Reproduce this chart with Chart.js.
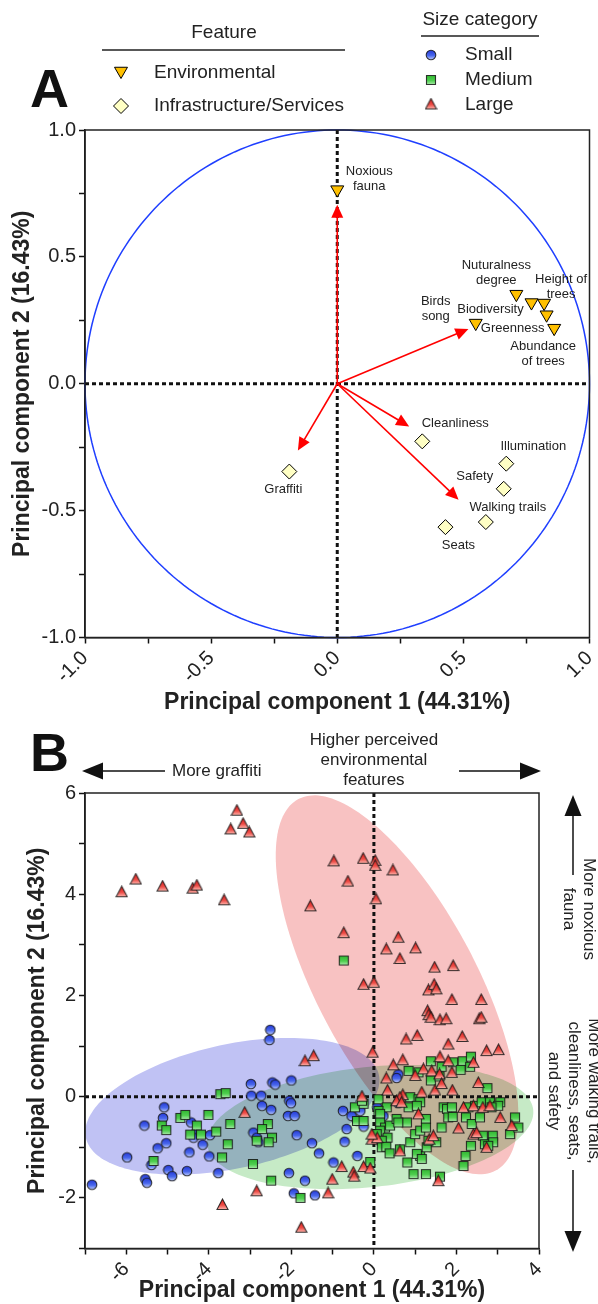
<!DOCTYPE html>
<html>
<head>
<meta charset="utf-8">
<title>PCA loadings and scores</title>
<script src="https://cdn.jsdelivr.net/npm/chart.js@4.4.1/dist/chart.umd.min.js"></script>
<style>
  html, body { margin: 0; padding: 0; background: #fff; }
  body { width: 598px; height: 1304px; position: relative; overflow: hidden; }
  canvas { position: absolute; left: 0; }
  #chartA { top: 0; }
  #chartB { top: 726px; }
</style>
</head>
<body>
<canvas id="chartA" width="598" height="720"></canvas>
<canvas id="chartB" width="598" height="578"></canvas>
<script>
// ---------- panel A : loadings ----------
const envNames = ["Noxious\nfauna", "Birds\nsong", "Nuturalness\ndegree", "Biodiversity", "Height of\ntrees", "Greenness", "Abundance\nof trees"];
const envPC1 = [0.0, 0.549, 0.71, 0.77, 0.82, 0.83, 0.86];
const envPC2 = [0.765, 0.239, 0.353, 0.320, 0.318, 0.272, 0.219];

const infraNames = ["Cleanliness", "Illumination", "Safety", "Walking trails", "Seats", "Graffiti"];
const infraPC1 = [0.337, 0.67, 0.66, 0.589, 0.429, -0.19];
const infraPC2 = [-0.227, -0.315, -0.414, -0.545, -0.565, -0.346];

// red vectors (end points)
const vecPC1 = [0.0, 0.52, 0.285, 0.481, -0.156];
const vecPC2 = [0.705, 0.216, -0.168, -0.457, -0.263];

const ticksA = [-1.0, -0.5, 0.0, 0.5, 1.0];

// ---------- panel B : scores ----------
const smallScores = [
  [-2.51,1.32],[-2.53,1.12],[-2.98,0.25],[-2.46,0.28],[-2.39,0.24],[-2.00,0.32],
  [-2.97,0.02],[-2.73,0.02],[-2.71,-0.18],[-2.49,-0.26],[-2.05,-0.08],[-2.01,-0.13],
  [-2.08,-0.38],[-1.92,-0.38],[-1.87,-0.76],[-1.50,-0.92],[-1.33,-1.12],
  [-0.75,-0.28],[-0.54,-0.38],[-0.66,-0.64],[-0.71,-0.89],[-0.25,-0.59],[-0.40,-1.17],
  [-0.98,-1.30],[-1.67,-1.66],[-2.06,-1.51],[-0.33,-0.28],[-0.41,-0.48],[0.08,-0.21],
  [0.23,-0.38],[0.59,0.44],[0.55,0.37],[0.59,-0.13],
  [-5.08,-0.21],[-5.11,-0.42],[-5.56,-0.57],[-4.43,-0.51],[-4.33,-0.73],[-4.37,-0.81],
  [-4.15,-0.95],[-3.97,-0.76],[-5.03,-0.92],[-5.24,-1.02],[-4.47,-1.10],[-3.99,-1.18],
  [-5.98,-1.20],[-5.39,-1.35],[-4.98,-1.45],[-4.89,-1.57],[-4.53,-1.47],[-3.77,-1.51],
  [-5.54,-1.63],[-5.50,-1.70],[-6.83,-1.74],[-2.92,-0.71],[-2.84,-0.81],[-2.80,-0.90],
  [-1.94,-1.91],[-1.43,-1.95]
];
const mediumScores = [
  [-3.72,0.05],[-3.59,0.07],[-4.69,-0.42],[-4.57,-0.36],[-4.01,-0.36],[-5.14,-0.57],
  [-5.03,-0.66],[-4.29,-0.57],[-4.45,-0.75],[-4.19,-0.75],[-3.82,-0.69],[-3.48,-0.54],
  [-3.54,-0.94],[-3.68,-1.20],[-2.93,-1.33],[-2.57,-0.54],[-2.71,-0.64],[-2.47,-0.81],
  [-2.55,-0.90],[-2.84,-0.87],[-5.34,-1.27],[-2.49,-1.66],[-1.78,-2.00],
  [-0.46,-0.21],[-0.25,-0.14],[-0.41,-0.48],[-0.25,-0.48],[-0.09,-1.29],[-0.29,-0.08],
  [-0.73,2.69],
  [1.38,0.70],[1.64,0.59],[1.92,0.68],[2.15,0.70],[2.33,0.59],[2.10,0.53],[2.35,0.79],
  [0.84,0.51],[1.38,0.32],[2.75,0.17],[1.59,0.40],[1.08,0.48],
  [0.11,-0.05],[0.31,-0.21],[0.11,-0.28],[0.15,-0.34],[0.15,-0.51],[0.27,-0.61],
  [0.39,-0.57],[0.15,-0.67],[0.07,-0.74],[0.33,-0.81],[0.19,-0.87],[0.19,-1.00],
  [0.30,-0.99],[0.38,-1.12],[0.55,-0.44],[0.80,-0.51],[0.59,-0.51],[0.63,-1.04],
  [0.88,-0.90],[1.00,-0.74],[1.12,-0.67],[1.26,-0.44],[1.26,-0.61],[0.81,-1.30],
  [1.12,-1.17],[1.04,-1.13],[1.16,-1.23],[1.28,-1.00],[1.51,-0.90],[1.32,-0.87],
  [1.64,-0.61],[0.96,-1.53],[1.26,-1.53],[1.60,-1.58],[2.17,-1.37],[2.22,-1.17],
  [2.35,-0.97],[0.88,-0.01],[1.08,-0.05],[1.12,-0.11],[0.84,-0.21],[1.04,-0.18],
  [1.69,-0.21],[1.77,-0.24],[1.89,-0.21],[1.80,-0.41],[1.91,-0.40],[2.23,-0.41],
  [2.37,-0.54],[2.29,-0.21],[2.57,-0.41],[2.45,-0.18],[2.61,-0.11],[2.81,-0.11],
  [3.06,-0.11],[3.01,-0.18],[2.85,-0.21],[2.64,-0.77],[2.88,-0.77],[2.69,-0.94],
  [2.89,-0.90],[2.77,-0.97],[3.30,-0.74],[3.50,-0.61],[3.42,-0.41]
];
const largeScores = [
  [-3.32,5.66],[-3.47,5.29],[-3.17,5.40],[-3.02,5.23],[-6.11,4.05],[-5.77,4.30],
  [-5.12,4.16],[-4.39,4.12],[-4.29,4.18],[-3.63,3.89],
  [-0.97,4.66],[-0.26,4.71],[0.03,4.67],[0.03,4.57],[-0.63,4.26],[-1.54,3.77],
  [0.05,3.91],[-0.73,3.24],[-0.25,2.22],[0.00,2.26],
  [0.46,4.48],[0.59,3.15],[0.30,2.92],[1.01,2.94],[0.63,2.73],[1.47,2.56],[1.92,2.59],
  [1.32,2.11],[1.46,2.22],[1.51,2.13],[1.89,1.92],[2.60,1.92],[1.30,1.70],[1.33,1.62],
  [1.38,1.57],[1.60,1.52],[1.75,1.54],[2.55,1.54],[2.60,1.57],
  [0.78,1.14],[1.05,1.21],[2.14,1.19],[1.80,1.04],[2.73,0.91],[3.02,0.93],[1.60,0.79],
  [1.80,0.71],[2.41,0.68],[0.70,0.73],[0.47,0.63],[-0.03,0.88],[-1.67,0.71],[-1.46,0.81],
  [1.20,0.55],[1.40,0.51],[1.59,0.45],[1.00,0.42],[1.89,0.48],[0.30,0.37],[2.53,0.28],
  [0.33,0.13],[1.48,0.13],[1.64,0.26],[1.90,0.13],[0.70,0.04],[1.16,0.09],[-0.29,0.01],
  [1.08,-0.34],[2.05,-0.62],[2.41,-0.74],[2.49,-0.71],[3.06,-0.41],[3.34,-0.57],
  [2.17,-0.21],[2.41,-0.18],[2.64,-0.21],[2.81,-0.18],[-0.05,-0.84],[0.08,-0.81],
  [-0.05,-0.74],[0.63,-1.07],[1.34,-0.84],[1.44,-0.77],
  [-0.78,-1.38],[-0.50,-1.49],[-0.48,-1.57],[-0.25,-1.38],[-0.09,-1.41],[-1.01,-1.63],
  [2.73,-1.00],[1.56,-1.66],[0.63,-0.01],[0.55,-0.08],[0.67,-0.11],
  [-3.13,-0.31],[-2.84,-1.86],[-3.67,-2.13],[-1.76,-2.58],[-1.11,-1.90]
];

// confidence ellipses: centre x, centre y, semi axis 1 (x,y), semi axis 2 (x,y)
const ellLarge = [0.56, 2.21, -2.39, 3.67, 1.71, 0.74];
const ellSmall = [-3.43, -0.19, 3.55, 0.62, 0.31, -1.20];
const ellMedium = [-0.09, -0.60, 3.95, 0.34, 0.15, -1.18];

const ticksB = [-6, -4, -2, 0, 2, 4, 6];

// ---------- style helpers ----------
const FONT = '"Liberation Sans", Arial, sans-serif';
Chart.defaults.font.family = FONT;
Chart.defaults.color = '#222';

// where each loading label sits relative to its marker (px)
const labelOffsets = {
  "Noxious\nfauna": [32, -18], "Birds\nsong": [-40, -22], "Nuturalness\ndegree": [-20, -29],
  "Biodiversity": [-41, 7], "Height of\ntrees": [17, -24], "Greenness": [-34, 14],
  "Abundance\nof trees": [-11, 18], "Cleanliness": [33, -18], "Illumination": [27, -17],
  "Safety": [-29, -12], "Walking trails": [22, -15], "Seats": [13, 18], "Graffiti": [-6, 18]
};

function makeMarker(shape, c1, c2, c3, size) {
  const c = document.createElement('canvas');
  c.width = size; c.height = size;
  const g = c.getContext('2d');
  const grad = g.createLinearGradient(0, 1, 0, size - 1);
  grad.addColorStop(0, c1);
  grad.addColorStop(0.55, c2);
  grad.addColorStop(1, c3);
  g.fillStyle = grad;
  g.strokeStyle = 'rgba(20,20,20,0.85)';
  g.lineWidth = 1.1;
  g.beginPath();
  const m = size / 2;
  if (shape === 'circle') g.arc(m, m, m - 1.2, 0, Math.PI * 2);
  else if (shape === 'square') g.rect(1.5, 1.5, size - 3, size - 3);
  else { g.moveTo(m, 1); g.lineTo(size - 1, size - 1.5); g.lineTo(1, size - 1.5); g.closePath(); }
  g.fill();
  g.stroke();
  return c;
}
const imgSmall = makeMarker('circle', '#2236d8', '#4a68ec', '#c6d2ff', 12);
const imgMedium = makeMarker('square', '#2fb52f', '#4fcf4f', '#b4ecb4', 12);
const imgLarge = makeMarker('tri', '#e02222', '#ee4a44', '#ffc4bc', 13);

function arrowHead(ctx, tx, ty, ux, uy, len, half) {
  const bx = tx - ux * len, by = ty - uy * len;
  ctx.beginPath();
  ctx.moveTo(tx, ty);
  ctx.lineTo(bx - uy * half, by + ux * half);
  ctx.lineTo(bx + uy * half, by - ux * half);
  ctx.closePath();
  ctx.fill();
}

function arrow(ctx, x0, y0, x1, y1, len, half) {
  const d = Math.hypot(x1 - x0, y1 - y0);
  const ux = (x1 - x0) / d, uy = (y1 - y0) / d;
  ctx.beginPath();
  ctx.moveTo(x0, y0);
  ctx.lineTo(x1 - ux * (len - 1), y1 - uy * (len - 1));
  ctx.stroke();
  arrowHead(ctx, x1, y1, ux, uy, len, half);
}

function shapePath(ctx, shape, x, y, r) {
  ctx.beginPath();
  if (shape === 'triDown') {
    for (let k = 0; k < 3; k++) {
      const a = Math.PI + k * 2 * Math.PI / 3;
      const px = x + Math.sin(a) * r, py = y - Math.cos(a) * r;
      k ? ctx.lineTo(px, py) : ctx.moveTo(px, py);
    }
  } else {
    ctx.moveTo(x - r, y); ctx.lineTo(x, y - r); ctx.lineTo(x + r, y); ctx.lineTo(x, y + r);
  }
  ctx.closePath();
}

function dashedAxes(ctx, a, x, y) {
  const x0 = x.getPixelForValue(0), y0 = y.getPixelForValue(0);
  ctx.save();
  ctx.strokeStyle = '#111';
  ctx.lineWidth = 3;
  ctx.setLineDash([4, 3]);
  ctx.beginPath();
  ctx.moveTo(x0, a.top); ctx.lineTo(x0, a.bottom);
  ctx.moveTo(a.left, y0); ctx.lineTo(a.right, y0);
  ctx.stroke();
  ctx.restore();
}

function frame(ctx, a) {
  ctx.save();
  ctx.strokeStyle = '#222';
  ctx.lineWidth = 1.5;
  ctx.strokeRect(a.left, a.top, a.right - a.left, a.bottom - a.top);
  ctx.restore();
}

// ---------- panel A plugin ----------
const panelA = {
  id: 'panelA',
  beforeDatasetsDraw(chart) {
    const {ctx, chartArea: a, scales: {x, y}} = chart;
    ctx.save();
    ctx.strokeStyle = '#1f3fff';
    ctx.lineWidth = 1.5;
    ctx.beginPath();
    for (let i = 0; i <= 240; i++) {
      const t = i / 240 * Math.PI * 2;
      const px = x.getPixelForValue(Math.cos(t)), py = y.getPixelForValue(Math.sin(t));
      i ? ctx.lineTo(px, py) : ctx.moveTo(px, py);
    }
    ctx.stroke();
    ctx.restore();

    dashedAxes(ctx, a, x, y);

    ctx.save();
    ctx.strokeStyle = '#ff0000';
    ctx.fillStyle = '#ff0000';
    ctx.lineWidth = 1.6;
    const ox = x.getPixelForValue(0), oy = y.getPixelForValue(0);
    for (let i = 0; i < vecPC1.length; i++) {
      arrow(ctx, ox, oy, x.getPixelForValue(vecPC1[i]), y.getPixelForValue(vecPC2[i]), 13, 6);
    }
    ctx.restore();
  },
  afterDatasetsDraw(chart) {
    const {ctx, chartArea: a} = chart;
    ctx.save();
    ctx.font = '13px ' + FONT;
    ctx.fillStyle = '#222';
    ctx.textAlign = 'center';
    ctx.textBaseline = 'middle';
    [envNames, infraNames].forEach((names, di) => {
      const pts = chart.getDatasetMeta(di).data;
      names.forEach((n, i) => {
        const off = labelOffsets[n];
        n.split('\n').forEach((line, k) => {
          ctx.fillText(line, pts[i].x + off[0], pts[i].y + off[1] + k * 15);
        });
      });
    });
    ctx.restore();
    frame(ctx, a);
  },
  afterDraw(chart) {
    const ctx = chart.ctx;
    ctx.save();
    ctx.fillStyle = '#111';
    ctx.font = 'bold 54px ' + FONT;
    ctx.textBaseline = 'alphabetic';
    ctx.fillText('A', 30, 107);

    ctx.fillStyle = '#222';
    ctx.font = '19px ' + FONT;
    ctx.textBaseline = 'middle';
    ctx.textAlign = 'center';
    ctx.fillText('Feature', 224, 33);
    ctx.fillText('Size category', 480, 20);
    ctx.strokeStyle = '#222';
    ctx.lineWidth = 1.5;
    ctx.beginPath();
    ctx.moveTo(102, 50); ctx.lineTo(345, 50);
    ctx.moveTo(421, 36); ctx.lineTo(539, 36);
    ctx.stroke();

    ctx.textAlign = 'left';
    ctx.fillText('Environmental', 154, 73);
    ctx.fillText('Infrastructure/Services', 154, 106);
    ctx.fillText('Small', 465, 55);
    ctx.fillText('Medium', 465, 80);
    ctx.fillText('Large', 465, 105);

    ctx.lineWidth = 1;
    ctx.strokeStyle = '#000';
    shapePath(ctx, 'triDown', 121, 71, 7.5);
    ctx.fillStyle = '#ffc000'; ctx.fill(); ctx.stroke();
    shapePath(ctx, 'diamond', 121, 106, 7.5);
    ctx.fillStyle = '#ffffc4'; ctx.fill(); ctx.stroke();

    ctx.drawImage(imgSmall, 431 - 6, 55 - 6);
    ctx.drawImage(imgMedium, 431 - 6, 80 - 6);
    ctx.drawImage(imgLarge, 431 - 6.5, 104 - 6.5);
    ctx.restore();
  }
};

// ---------- panel B plugin ----------
function fillEllipse(ctx, x, y, e, color) {
  ctx.beginPath();
  for (let i = 0; i <= 180; i++) {
    const t = i / 180 * Math.PI * 2;
    const vx = e[0] + e[2] * Math.cos(t) + e[4] * Math.sin(t);
    const vy = e[1] + e[3] * Math.cos(t) + e[5] * Math.sin(t);
    const px = x.getPixelForValue(vx), py = y.getPixelForValue(vy);
    i ? ctx.lineTo(px, py) : ctx.moveTo(px, py);
  }
  ctx.closePath();
  ctx.fillStyle = color;
  ctx.fill();
}

function vText(ctx, lines, cols, cy) {
  lines.forEach((s, i) => {
    ctx.save();
    ctx.translate(cols[i], cy);
    ctx.rotate(Math.PI / 2);
    ctx.fillText(s, 0, 0);
    ctx.restore();
  });
}

const panelB = {
  id: 'panelB',
  beforeDatasetsDraw(chart) {
    const {ctx, chartArea: a, scales: {x, y}} = chart;
    ctx.save();
    ctx.beginPath();
    ctx.rect(a.left, a.top, a.right - a.left, a.bottom - a.top);
    ctx.clip();
    ctx.globalCompositeOperation = 'multiply';
    fillEllipse(ctx, x, y, ellLarge, 'rgb(248,194,194)');
    fillEllipse(ctx, x, y, ellSmall, 'rgb(192,194,244)');
    fillEllipse(ctx, x, y, ellMedium, 'rgb(198,234,198)');
    ctx.restore();
    dashedAxes(ctx, a, x, y);
  },
  afterDraw(chart) {
    const {ctx, chartArea: a, scales: {x}} = chart;
    frame(ctx, a);
    ctx.save();
    ctx.fillStyle = '#111';
    ctx.font = 'bold 54px ' + FONT;
    ctx.textBaseline = 'alphabetic';
    ctx.fillText('B', 30, 45);

    ctx.fillStyle = '#222';
    ctx.strokeStyle = '#111';
    ctx.font = '17px ' + FONT;
    ctx.textBaseline = 'middle';
    ctx.textAlign = 'center';
    const cx = x.getPixelForValue(0);
    ctx.fillText('Higher perceived', cx, 14);
    ctx.fillText('environmental', cx, 34);
    ctx.fillText('features', cx, 54);
    ctx.textAlign = 'left';
    ctx.fillText('More graffiti', 172, 45);

    ctx.lineWidth = 1.5;
    ctx.fillStyle = '#111';
    arrow(ctx, 165, 45, 82, 45, 21, 8.5);
    arrow(ctx, 459, 45, 541, 45, 21, 8.5);
    arrow(ctx, 573, 149, 573, 69, 21, 8.5);
    arrow(ctx, 573, 444, 573, 526, 21, 8.5);

    ctx.fillStyle = '#222';
    ctx.textAlign = 'center';
    vText(ctx, ['More noxious', 'fauna'], [589, 569], 183);
    vText(ctx, ['More walking trails,', 'cleanliness, seats,', 'and safety'], [594, 574, 554], 365);
    ctx.restore();
  }
};

// ---------- charts ----------
function axisTicks(len) {
  return { display: true, drawOnChartArea: false, drawTicks: true, tickLength: len, tickColor: '#111', tickWidth: 1.5 };
}
const axisBorder = { display: true, color: '#111', width: 1.5 };
const titleFont = { size: 23, weight: 'bold' };

new Chart(document.getElementById('chartA'), {
  type: 'scatter',
  data: {
    datasets: [{
      label: 'Environmental',
      data: envPC1.map((v, i) => ({x: v, y: envPC2[i]})),
      pointStyle: 'triangle', rotation: 180, radius: 7.5,
      backgroundColor: '#ffc000', borderColor: '#000', borderWidth: 1
    }, {
      label: 'Infrastructure/Services',
      data: infraPC1.map((v, i) => ({x: v, y: infraPC2[i]})),
      pointStyle: 'rectRot', radius: 7.5,
      backgroundColor: '#ffffc4', borderColor: '#000', borderWidth: 1
    }]
  },
  options: {
    responsive: false, animation: false, events: [],
    layout: { padding: { left: 0, right: 2, top: 130, bottom: 0 } },
    plugins: { legend: { display: false }, tooltip: { enabled: false } },
    scales: {
      x: {
        min: -1, max: 1,
        ticks: {
          stepSize: 0.25, autoSkip: false, minRotation: 45, maxRotation: 45, padding: 3,
          font: { size: 20 }, color: '#222',
          callback: v => ticksA.some(t => Math.abs(t - v) < 1e-9) ? v.toFixed(1) : ''
        },
        grid: axisTicks(6), border: axisBorder,
        title: { display: true, text: 'Principal component 1 (44.31%)', color: '#222',
                 font: titleFont, padding: { top: 0, bottom: 4 } },
        afterFit: s => { s.height = 82.5; s.paddingLeft = 0; s.paddingRight = 0; }
      },
      y: {
        min: -1, max: 1,
        ticks: {
          stepSize: 0.25, autoSkip: false, padding: 3, font: { size: 20 }, color: '#222',
          callback: v => ticksA.some(t => Math.abs(t - v) < 1e-9) ? v.toFixed(1) : ''
        },
        grid: axisTicks(6), border: axisBorder,
        title: { display: true, text: 'Principal component 2 (16.43%)', color: '#222',
                 font: titleFont, padding: { top: 9, bottom: 0 } },
        afterFit: s => { s.width = 85; }
      }
    }
  },
  plugins: [panelA]
});

const toXY = arr => arr.map(p => ({x: p[0], y: p[1]}));

new Chart(document.getElementById('chartB'), {
  type: 'scatter',
  data: {
    datasets: [
      { label: 'Large', data: toXY(largeScores), pointStyle: imgLarge, order: 0 },
      { label: 'Medium', data: toXY(mediumScores), pointStyle: imgMedium, order: 1 },
      { label: 'Small', data: toXY(smallScores), pointStyle: imgSmall, order: 2 }
    ]
  },
  options: {
    responsive: false, animation: false, events: [],
    layout: { padding: { left: 0, right: 59, top: 67, bottom: 0 } },
    plugins: { legend: { display: false }, tooltip: { enabled: false } },
    scales: {
      x: {
        min: -7, max: 4,
        ticks: {
          stepSize: 1, autoSkip: false, minRotation: 45, maxRotation: 45, padding: 3,
          font: { size: 20 }, color: '#222',
          callback: v => ticksB.includes(v) ? String(v) : ''
        },
        grid: axisTicks(6), border: axisBorder,
        title: { display: true, text: 'Principal component 1 (44.31%)', color: '#222',
                 font: titleFont, padding: { top: 0, bottom: 0 } },
        afterFit: s => { s.height = 55.5; s.paddingLeft = 0; s.paddingRight = 0; }
      },
      y: {
        min: -3, max: 6,
        ticks: {
          stepSize: 1, autoSkip: false, padding: 3, font: { size: 20 }, color: '#222',
          callback: v => ticksB.includes(v) ? String(v) : ''
        },
        grid: axisTicks(6), border: axisBorder,
        title: { display: true, text: 'Principal component 2 (16.43%)', color: '#222',
                 font: titleFont, padding: { top: 24, bottom: 0 } },
        afterFit: s => { s.width = 85; }
      }
    }
  },
  plugins: [panelB]
});
</script>
</body>
</html>
